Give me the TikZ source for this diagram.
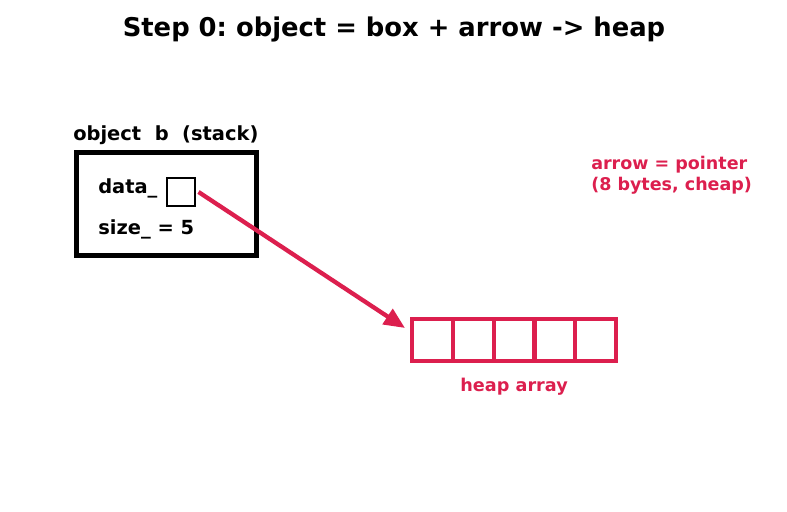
\documentclass[tikz,border=0pt]{standalone}
\usepackage{fontspec}
\setmainfont{DejaVu Sans}
\usetikzlibrary{arrows.meta,positioning}
\definecolor{ptrred}{HTML}{DC1F4E}
\frenchspacing

\begin{document}
\begin{tikzpicture}[x=0.72pt, y=-0.72pt, every node/.style={font=\bfseries, inner sep=0pt},
	cell/.style={draw=ptrred, line width=3pt, minimum width=29.4pt, minimum height=29.8pt, outer sep=0pt},
	>={Triangle[length=5.3mm, width=4.5mm]}]
	\useasboundingbox (0,0) rectangle (787,512);
	\node (title) at (394,29) {\fontsize{18.6}{22}\selectfont Step 0: object = box + arrow -> heap};
	% stack side
	\node[draw, line width=3.4pt, minimum width=129.5pt, minimum height=74pt] (stackbox) at (166.5,204) {};
	\node[anchor=base west, font=\bfseries\fontsize{14}{16}\selectfont] (stacklbl) at (73,141) {object\ \ b\ \ (stack)};
	\node[anchor=west, font=\bfseries\fontsize{14}{16}\selectfont] (datalbl) at (98,188.5) {data\_};
	\node[draw, line width=1.2pt, minimum size=20pt] (ptr) at (181,192) {};
	\node[anchor=west, font=\bfseries\fontsize{14}{16}\selectfont] (sizelbl) at (98,229.5) {size\_ = 5};
	% heap side
	\node[cell] (cell0) at (432.4,340) {};
	\foreach \i [remember=\i as \j (initially 0)] in {1,...,4}
		\node[cell, right=0pt of cell\j] (cell\i) {};
	\node[below=12pt of cell2, text=ptrred, font=\bfseries\fontsize{12.7}{14}\selectfont] (heaplbl) {heap array};
	\node[anchor=west, align=left, text=ptrred, font=\bfseries\fontsize{12.6}{15.2}\selectfont] (note) at (591,175) {arrow = pointer\\(8 bytes, cheap)};
	\coordinate (tip) at (405,328);
	\draw[->, ptrred, line width=3.1pt] ([xshift=2pt]ptr.east) -- (tip);
\end{tikzpicture}
\end{document}
